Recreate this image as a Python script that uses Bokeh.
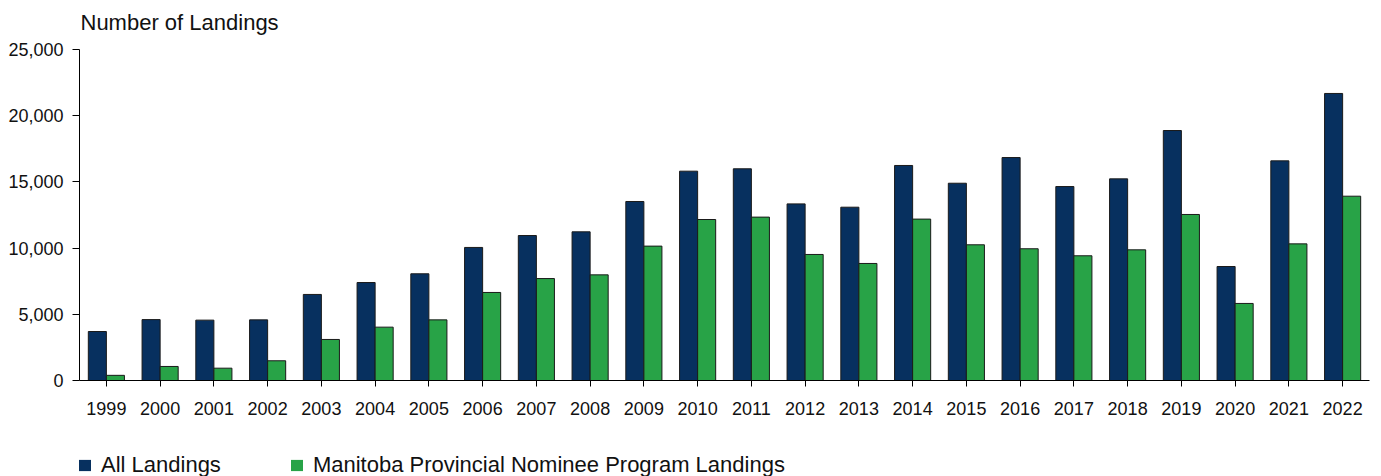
from bokeh.plotting import figure
from bokeh.models import ColumnDataSource, FactorRange, Range1d, NumeralTickFormatter, FixedTicker, Legend, LegendItem, Label
from bokeh.layouts import column
from bokeh.transform import dodge
from bokeh.embed import file_html
from bokeh.resources import INLINE

years = [str(y) for y in range(1999, 2023)]
all_landings = [3700, 4600, 4560, 4580, 6500, 7400, 8060, 10050, 10950, 11230, 13520, 15810,
                15990, 13340, 13090, 16240, 14900, 16840, 14650, 15230, 18880, 8610, 16590, 21680]
mpnp_landings = [390, 1060, 930, 1490, 3100, 4030, 4580, 6650, 7700, 7980, 10150, 12160,
                 12340, 9520, 8840, 12190, 10250, 9950, 9420, 9870, 12540, 5820, 10320, 13920]
y_ticks = [0, 5000, 10000, 15000, 20000, 25000]
series_names = ["All Landings", "Manitoba Provincial Nominee Program Landings"]
y_title = "Number of Landings"

BLUE = "#07305F"
GREEN = "#28A347"
FONT = "Liberation Sans"
TXT = "#111111"


def strip(height):
    f = figure(width=1381, height=height, output_backend="svg", toolbar_location=None,
               x_range=Range1d(0, 1), y_range=Range1d(0, 1),
               min_border_left=0, min_border_right=0, min_border_top=0, min_border_bottom=0)
    f.axis.visible = False
    f.xgrid.visible = False
    f.ygrid.visible = False
    f.outline_line_color = None
    return f


# title strip (its frame is aligned with the chart frame by the column layout)
top = strip(39)
top.add_layout(Label(x=1, y=17, x_units="screen", y_units="screen", text=y_title,
                     text_font=FONT, text_font_size="22px", text_color=TXT,
                     text_baseline="alphabetic", text_align="left"))

src = ColumnDataSource(dict(year=years, all=all_landings, mpnp=mpnp_landings))

p = figure(x_range=FactorRange(*years), y_range=Range1d(0, 25000),
           width=1381, height=391, output_backend="svg", toolbar_location=None,
           min_border_left=79, min_border_right=12, min_border_top=10, min_border_bottom=50)
p.outline_line_color = None
p.xgrid.grid_line_color = None
p.ygrid.grid_line_color = None

p.vbar(x=dodge("year", -0.168, range=p.x_range), top="all", width=0.336, source=src,
       fill_color=BLUE, line_color="#1a1a1a", line_width=1)
p.vbar(x=dodge("year", 0.168, range=p.x_range), top="mpnp", width=0.336, source=src,
       fill_color=GREEN, line_color="#1a1a1a", line_width=1)

p.yaxis.ticker = FixedTicker(ticks=y_ticks)
p.yaxis.formatter = NumeralTickFormatter(format="0,0")
p.yaxis.minor_tick_line_color = None
p.yaxis.major_tick_in = 0
p.yaxis.major_tick_out = 7
p.yaxis.major_label_standoff = 9

p.xaxis.major_tick_in = 0
p.xaxis.major_tick_out = 6
p.xaxis.major_label_standoff = 15

for ax in (p.xaxis, p.yaxis):
    ax.axis_line_color = "black"
    ax.major_tick_line_color = "black"
    ax.major_label_text_font = FONT
    ax.major_label_text_font_size = "18px"
    ax.major_label_text_color = TXT

# legend strip
lg = strip(46)
d1 = lg.vbar(x=[0.5], top=[0], bottom=[0], width=0, fill_color=BLUE, line_color=None)
d2 = lg.vbar(x=[0.5], top=[0], bottom=[0], width=0, fill_color=GREEN, line_color=None)
legend = Legend(items=[LegendItem(label=series_names[0], renderers=[d1]),
                       LegendItem(label=series_names[1], renderers=[d2])],
                orientation="horizontal", location=(-2, -2),
                glyph_width=15, glyph_height=14, label_standoff=9, spacing=68,
                padding=0, margin=0, border_line_color=None, background_fill_alpha=0,
                label_text_font=FONT, label_text_font_size="22px", label_text_color=TXT)
lg.add_layout(legend, "center")

open("out.html", "w").write(file_html(column(top, p, lg, spacing=0), INLINE))
